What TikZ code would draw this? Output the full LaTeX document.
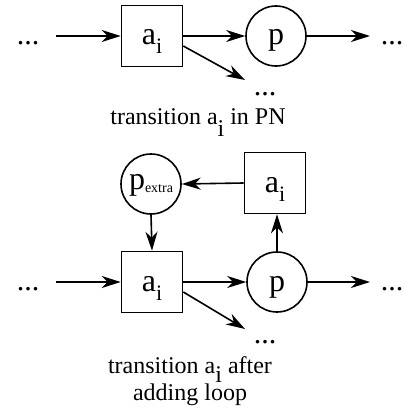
\documentclass[tikz,border=0pt]{standalone}
\usepackage{fontspec}
\setmainfont{Liberation Serif}
\usetikzlibrary{arrows.meta}
\newcommand\labfont{\fontsize{32}{32}\selectfont}
\newcommand\subi{\raisebox{-9pt}{\fontsize{22}{22}\selectfont i}}
\newcommand\capsub[1]{\raisebox{-#1}[0pt][0pt]{i}}
\newcommand\extrasub{\raisebox{-3pt}{\fontsize{14}{14}\selectfont extra}}
\begin{document}
\begin{tikzpicture}[x=1pt,y=-1pt,
  trans/.style={draw, line width=1.6pt, minimum size=61pt, inner sep=0pt,
    text height=20pt, text depth=2pt, font=\labfont},
  place/.style={draw, circle, line width=1.6pt, minimum size=60pt, inner sep=0pt,
    text height=20pt, text depth=2pt, font=\labfont},
  arr/.style={line width=1.6pt, -{Stealth[length=19pt,width=12pt,inset=6pt]}},
  dots/.style={anchor=base, inner sep=0pt, font=\fontsize{30}{30}\selectfont},
  captext/.style={anchor=base, inner sep=0pt, font=\fontsize{24}{27}\selectfont, align=center}]
\useasboundingbox (0,0) rectangle (404,412);

% top row
\node[trans] (b1) at (152,36) {a\subi};
\node[place] (p1) at (276,36) {p};
\node[dots] (dl1) at (28,45) {...};
\node[dots] (dr1) at (392,45) {...};
\node[dots] (dd1) at (265,95) {...};
\coordinate (s1) at (56,36);
\coordinate (e1) at (370,36);
\coordinate (f1) at (245,80);
\draw[arr] (s1) -- (b1.west);
\draw[arr] (b1.east) -- (p1.west);
\draw[arr] (p1.east) -- (e1);
\draw[arr] ([yshift=-10pt]b1.east) -- (f1);
\node[captext] (c1) at (198,124) {transition a\capsub{12pt} in PN};

% loop
\node[place, text height=16pt, text depth=5pt] (pe) at (151,184) {p\extrasub};
\node[trans] (b2) at (275,183) {a\subi};

% bottom row
\node[trans] (b3) at (152,282) {a\subi};
\node[place] (p2) at (277,282) {p};
\node[dots] (dl2) at (28,290) {...};
\node[dots] (dr2) at (392,290) {...};
\node[dots] (dd2) at (265,343) {...};
\coordinate (s2) at (56,282);
\coordinate (e2) at (370,282);
\coordinate (f2) at (245,329);
\draw[arr] (s2) -- (b3.west);
\draw[arr] (b3.east) -- (p2.west);
\draw[arr] (p2.east) -- (e2);
\draw[arr] ([yshift=-10pt]b3.east) -- (f2);

\draw[arr] (b2.west) -- (pe.east);
\draw[arr] (pe.south) -- (b3.north);
\draw[arr] (p2.north) -- (p2.north |- b2.south);

\node[captext] (c2) at (190,400) {transition a\capsub{9pt} after\\adding loop};
\end{tikzpicture}
\end{document}
